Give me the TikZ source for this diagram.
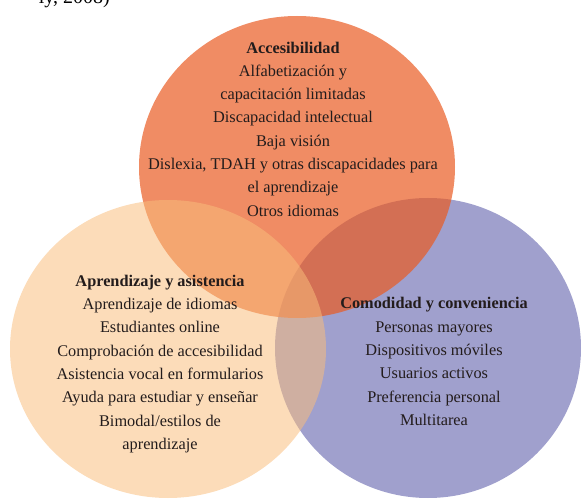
\documentclass[tikz,border=0pt]{standalone}
\usepackage{fontspec}
\setmainfont{Liberation Serif}
\usetikzlibrary{shapes.geometric}

\definecolor{accorange}{RGB}{233,91,34}
\definecolor{aprpeach}{RGB}{249,189,123}
\definecolor{compurple}{RGB}{160,160,205}
\definecolor{venntext}{RGB}{35,28,28}

\tikzstyle{venn}=[ellipse,draw=none,inner sep=0pt]
\tikzstyle{venn label}=[align=center,text=venntext,font=\fontsize{16.3}{23.3}\selectfont]

\begin{document}
\begin{tikzpicture}[x=1pt,y=1pt]
			\useasboundingbox (0,0) rectangle (582,499);
			% caption cut off at the top
			\node[anchor=base east,font=\fontsize{20}{24}\selectfont,inner sep=0pt] (cite) at (110,495) {ly, 2008)};
			% the three circles, back to front
			\node[venn,fill=compurple,minimum width=306,minimum height=300] (com) at (428,151) {};
			\node[venn,fill=accorange,fill opacity=0.7,minimum width=316,minimum height=302] (acc) at (297,332) {};
			\node[venn,fill=aprpeach,fill opacity=0.53,minimum width=316,minimum height=298] (apr) at (168,150) {};
			% labels
			\node[venn label] (acctext) at (293,370) {\textbf{Accesibilidad}\\Alfabetización y\\capacitación limitadas\\Discapacidad intelectual\\Baja visión\\Dislexia, TDAH y otras discapacidades para\\el aprendizaje\\Otros idiomas};
			\node[venn label] (aprtext) at (160,135) {\textbf{Aprendizaje y asistencia}\\Aprendizaje de idiomas\\Estudiantes online\\Comprobación de accesibilidad\\Asistencia vocal en formularios\\Ayuda para estudiar y enseñar\\Bimodal/estilos de\\aprendizaje};
			\node[venn label] (comtext) at (434,137.5) {\textbf{Comodidad y conveniencia}\\Personas mayores\\Dispositivos móviles\\Usuarios activos\\Preferencia personal\\Multitarea};
		\end{tikzpicture}
\end{document}
